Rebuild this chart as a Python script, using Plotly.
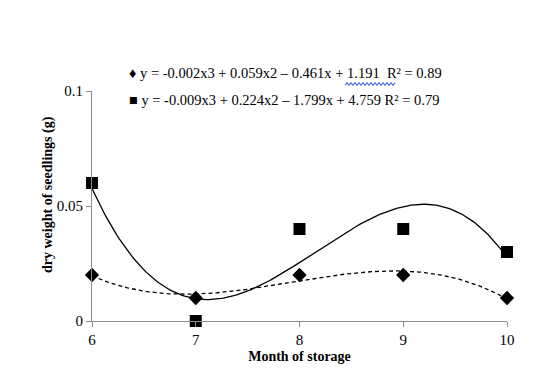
import numpy as np
import plotly.graph_objects as go

months = [6, 7, 8, 9, 10]
diamond_vals = [0.02, 0.01, 0.02, 0.02, 0.01]
square_vals = [0.06, 0.0, 0.04, 0.04, 0.03]
x_ticks = [6, 7, 8, 9, 10]
y_ticks = [0, 0.05, 0.1]
y_tick_labels = ["0", "0.05", "0.1"]
eq_diamond = "\u2666 y = -0.002x3 + 0.059x2 \u2013 0.461x + 1.191  R\u00b2 = 0.89"
eq_square = "\u25a0 y = -0.009x3 + 0.224x2 \u2013 1.799x + 4.759 R\u00b2 = 0.79"

FONT = "Liberation Serif, Times New Roman, serif"

# cubic trendlines (regression of the data, as in the source chart)
xs = np.linspace(6, 10, 200)
fit_d = np.polyval(np.polyfit(months, diamond_vals, 3), xs)
fit_s = np.polyval(np.polyfit(months, square_vals, 3), xs)

# plot-area pixel geometry (page has an 8px body margin)
PL, PR, PT, PB = 92, 507, 91, 321
PW, PH = PR - PL, PB - PT


def px(xp):
    return (xp - PL) / PW


def py(yp):
    return (PB - yp) / PH


fig = go.Figure()
fig.add_trace(go.Scatter(x=xs, y=fit_d, mode="lines",
                         line=dict(color="black", width=1.3, dash="4px,3px"),
                         showlegend=False, hoverinfo="skip"))
fig.add_trace(go.Scatter(x=xs, y=fit_s, mode="lines",
                         line=dict(color="black", width=1.3),
                         showlegend=False, hoverinfo="skip"))
fig.add_trace(go.Scatter(x=months, y=diamond_vals, mode="markers",
                         marker=dict(symbol="diamond", size=11, color="black"),
                         cliponaxis=False, showlegend=False))
fig.add_trace(go.Scatter(x=months, y=square_vals, mode="markers",
                         marker=dict(symbol="square", size=12, color="black"),
                         cliponaxis=False, showlegend=False))

fig.update_layout(
    width=559, height=388,
    margin=dict(l=PL - 8, r=559 - (PR - 8), t=PT - 8, b=388 - (PB - 8)),
    paper_bgcolor="white", plot_bgcolor="white",
    font=dict(family=FONT, size=14, color="black"),
    xaxis=dict(range=[6, 10], tickvals=x_ticks, showgrid=False, zeroline=False,
               showline=True, linecolor="#8c8c8c", linewidth=1,
               ticks="outside", ticklen=5, tickcolor="#8c8c8c",
               tickfont=dict(family=FONT, size=15),
               title=dict(text="<b>Month of storage</b>", standoff=4,
                          font=dict(family=FONT, size=14))),
    yaxis=dict(range=[0, 0.1], tickvals=y_ticks, ticktext=y_tick_labels,
               showgrid=False, zeroline=False,
               showline=True, linecolor="#8c8c8c", linewidth=1,
               ticks="outside", ticklen=5, tickcolor="#8c8c8c",
               tickfont=dict(family=FONT, size=15)),
)

fig.add_annotation(x=px(48), y=py(195), xref="paper", yref="paper",
                   xanchor="center", yanchor="middle", showarrow=False,
                   textangle=-90, text="<b>dry weight of seedlings (g)</b>",
                   font=dict(family=FONT, size=14))

fig.add_annotation(x=px(127), y=py(73), xref="paper", yref="paper",
                   xanchor="left", yanchor="middle", showarrow=False,
                   text=eq_diamond, font=dict(family=FONT, size=14.5))
fig.add_annotation(x=px(127), y=py(100), xref="paper", yref="paper",
                   xanchor="left", yanchor="middle", showarrow=False,
                   text=eq_square, font=dict(family=FONT, size=14.5))

# spell-check style wavy underline beneath "1.191  R"
wx0, wx1, wy = 345, 395, 84
pts = []
k = 0
xp = wx0
while xp <= wx1:
    yy = wy + (1.3 if k % 2 == 0 else -1.3)
    pts.append(f"{px(xp):.5f},{py(yy):.5f}")
    xp += 2
    k += 1
fig.add_shape(type="path", xref="paper", yref="paper",
              path="M " + " L ".join(pts),
              line=dict(color="#4f74d6", width=1.1))

fig.write_html("out.html")
